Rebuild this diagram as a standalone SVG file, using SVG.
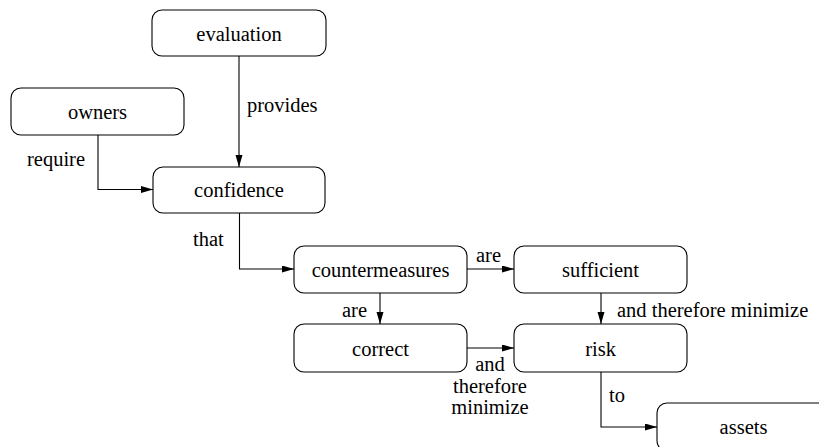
<svg xmlns="http://www.w3.org/2000/svg" width="819" height="447" viewBox="0 0 819 447">
  <style>
    .box { fill: #ffffff; stroke: #000000; stroke-width: 1.1; }
    .label { font-family: Liberation Serif, serif; font-size: 20.5px; fill: #000000; }
    .node-text { text-anchor: middle; }
    .edge { fill: none; stroke: #000000; stroke-width: 1.1; marker-end: url(#arrow); }
  </style>
  <defs>
    <marker id="arrow" markerUnits="userSpaceOnUse" markerWidth="12" markerHeight="8" refX="12" refY="3.5" orient="auto">
      <path d="M0,0 L12,3.5 L0,7 z" fill="#000000"/>
    </marker>
  </defs>
  <rect width="819" height="447" fill="#ffffff"/>

  <!-- connectors and their labels -->
  <g id="connectors">
    <path class="edge" d="M239,56 V167"/>
    <path class="edge" d="M98,135 V189.5 H153"/>
    <path class="edge" d="M239.5,213 V269 H294"/>
    <path class="edge" d="M467,269 H514"/>
    <path class="edge" d="M380,293 V324"/>
    <path class="edge" d="M601,293 V324"/>
    <path class="edge" d="M467,348 H514"/>
    <path class="edge" d="M601,372 V427 H657"/>
    <text class="label" x="247" y="112">provides</text>
    <text class="label" x="85" y="166" text-anchor="end">require</text>
    <text class="label" x="193" y="246">that</text>
    <text class="label" x="476" y="262">are</text>
    <text class="label" x="342" y="317">are</text>
    <text class="label" x="617" y="317">and therefore minimize</text>
    <text class="label" x="490" y="371" text-anchor="middle">and</text>
    <text class="label" x="490" y="393" text-anchor="middle">therefore</text>
    <text class="label" x="490" y="414" text-anchor="middle">minimize</text>
    <text class="label" x="609" y="402">to</text>
  </g>

  <!-- nodes -->
  <g id="evaluation">
    <rect class="box" x="152" y="10" width="174" height="46" rx="10"/>
    <text class="label node-text" x="239" y="41">evaluation</text>
  </g>
  <g id="owners">
    <rect class="box" x="11" y="88" width="173" height="47" rx="10"/>
    <text class="label node-text" x="97.5" y="119">owners</text>
  </g>
  <g id="confidence">
    <rect class="box" x="153" y="167" width="172" height="46" rx="10"/>
    <text class="label node-text" x="239" y="197">confidence</text>
  </g>
  <g id="countermeasures">
    <rect class="box" x="294" y="246" width="173" height="47" rx="10"/>
    <text class="label node-text" x="380.5" y="277">countermeasures</text>
  </g>
  <g id="sufficient">
    <rect class="box" x="514" y="246" width="173" height="47" rx="10"/>
    <text class="label node-text" x="600.5" y="277">sufficient</text>
  </g>
  <g id="correct">
    <rect class="box" x="294" y="324" width="173" height="48" rx="10"/>
    <text class="label node-text" x="380.5" y="356">correct</text>
  </g>
  <g id="risk">
    <rect class="box" x="514" y="324" width="173" height="48" rx="10"/>
    <text class="label node-text" x="600.5" y="356">risk</text>
  </g>
  <g id="assets">
    <rect class="box" x="657" y="403" width="173" height="48" rx="10"/>
    <text class="label node-text" x="743.5" y="434">assets</text>
  </g>
</svg>
